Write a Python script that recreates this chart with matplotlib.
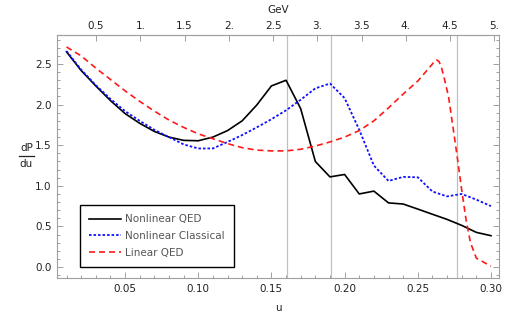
import matplotlib
matplotlib.use('Agg')
from matplotlib import pyplot as plt
from matplotlib.lines import Line2D
from matplotlib.ticker import MultipleLocator, FixedLocator

# photon energy fraction u, sampled every 0.01
u_grid = [0.01, 0.02, 0.03, 0.04, 0.05, 0.06, 0.07, 0.08, 0.09, 0.10,
          0.11, 0.12, 0.13, 0.14, 0.15, 0.16, 0.17, 0.18, 0.19, 0.20,
          0.21, 0.22, 0.23, 0.24, 0.25, 0.26, 0.27, 0.28, 0.29, 0.30]

nonlinear_qed = [2.65, 2.42, 2.23, 2.05, 1.89, 1.77, 1.67, 1.60, 1.56, 1.555,
                 1.60, 1.68, 1.80, 1.995, 2.23, 2.30, 1.95, 1.30, 1.11, 1.14,
                 0.90, 0.935, 0.79, 0.776, 0.714, 0.65, 0.587, 0.513, 0.427, 0.386]

nonlinear_classical = [2.66, 2.43, 2.24, 2.07, 1.92, 1.80, 1.69, 1.60, 1.51, 1.46,
                       1.46, 1.54, 1.625, 1.72, 1.82, 1.93, 2.06, 2.20, 2.26, 2.08,
                       1.69, 1.25, 1.06, 1.11, 1.105, 0.93, 0.87, 0.90, 0.83, 0.75]

# linear QED is smooth, sampled finer around the sharp edge
u_linear = [0.01, 0.02, 0.03, 0.04, 0.05, 0.06, 0.07, 0.08, 0.09, 0.10,
            0.11, 0.12, 0.13, 0.14, 0.15, 0.16, 0.17, 0.18, 0.19, 0.20,
            0.21, 0.22, 0.23, 0.24, 0.25, 0.26, 0.2615, 0.263, 0.2645, 0.266,
            0.268, 0.271, 0.274, 0.277, 0.280, 0.283, 0.286, 0.29, 0.295, 0.30]
linear_qed = [2.71, 2.60, 2.45, 2.31, 2.17, 2.04, 1.92, 1.81, 1.72, 1.64,
              1.58, 1.52, 1.47, 1.44, 1.43, 1.43, 1.45, 1.49, 1.54, 1.60,
              1.68, 1.80, 1.96, 2.13, 2.29, 2.50, 2.54, 2.55, 2.53, 2.47,
              2.33, 2.10, 1.73, 1.35, 0.95, 0.58, 0.30, 0.11, 0.06, 0.01]

# gray reference lines
edge_u = [0.1605, 0.191, 0.2766]

# GeV per unit of u for the top axis
GEV_PER_U = 16.54
gev_ticks = [0.5, 1.0, 1.5, 2.0, 2.5, 3.0, 3.5, 4.0, 4.5, 5.0]
gev_labels = ['0.5', '1.', '1.5', '2.', '2.5', '3.', '3.5', '4.', '4.5', '5.']

FRAME = '#a0a0a0'
TXT = '#222222'

plt.rcParams['font.family'] = 'DejaVu Sans'
plt.rcParams['font.size'] = 7.5

fig = plt.figure(figsize=(5.19, 3.14), dpi=100)
ax = fig.add_axes([0.1098, 0.1146, 0.8517, 0.7739])

for e in edge_u:
    ax.axvline(e, color='#c0c0c0', lw=0.9, zorder=1)

ax.plot(u_grid, nonlinear_qed, color='black', lw=1.2, label='Nonlinear QED', zorder=3)
ax.plot(u_grid, nonlinear_classical, color='#1010ff', lw=1.3, dashes=(1.4, 1.1),
        label='Nonlinear Classical', zorder=3)
ax.plot(u_linear, linear_qed, color='#ff1a1a', lw=1.2, dashes=(3.6, 2.4),
        label='Linear QED', zorder=3)

ax.set_xlim(0.0035, 0.3055)
ax.set_ylim(-0.135, 2.857)

ax.xaxis.set_major_locator(FixedLocator([0.05, 0.10, 0.15, 0.20, 0.25, 0.30]))
ax.xaxis.set_minor_locator(MultipleLocator(0.01))
ax.set_xticklabels(['0.05', '0.10', '0.15', '0.20', '0.25', '0.30'])
ax.yaxis.set_major_locator(FixedLocator([0.0, 0.5, 1.0, 1.5, 2.0, 2.5]))
ax.yaxis.set_minor_locator(MultipleLocator(0.1))
ax.set_yticklabels(['0.0', '0.5', '1.0', '1.5', '2.0', '2.5'])

ax.tick_params(which='both', direction='in', color=FRAME, labelcolor=TXT,
               right=True, top=False, width=0.7)
ax.tick_params(which='major', length=4, pad=4)
ax.tick_params(which='minor', length=2)
for s in ax.spines.values():
    s.set_color(FRAME)
    s.set_linewidth(0.8)

top = ax.secondary_xaxis('top', functions=(lambda x: x * GEV_PER_U,
                                           lambda x: x / GEV_PER_U))
top.xaxis.set_major_locator(FixedLocator(gev_ticks))
top.set_xticklabels(gev_labels)
top.tick_params(direction='in', color=FRAME, labelcolor=TXT, length=4, width=0.7, pad=3)
top.spines['top'].set_color(FRAME)
top.spines['top'].set_linewidth(0.8)
top.set_xlabel('GeV', color=TXT, labelpad=6)

ax.set_xlabel('u', color=TXT, labelpad=7)

# dP/du label as a stacked fraction
fig.text(26.5 / 519, 1 - 148 / 314, 'dP', ha='center', va='center', color=TXT)
fig.text(26.5 / 519, 1 - 164 / 314, 'du', ha='center', va='center', color=TXT)
fig.add_artist(Line2D([18.5 / 519, 33.5 / 519], [1 - 156 / 314, 1 - 156 / 314],
                      color=TXT, lw=0.9, transform=fig.transFigure))

leg = ax.legend(loc='lower left', bbox_to_anchor=(0.052, 0.045), borderaxespad=0,
                fancybox=False, edgecolor='black', framealpha=1,
                handlelength=3.0, handletextpad=0.4, labelspacing=0.65,
                borderpad=0.9, fontsize=7.5)
leg.get_frame().set_linewidth(1.0)
for t in leg.get_texts():
    t.set_color('#555555')

fig.savefig('out.png', dpi=100)
